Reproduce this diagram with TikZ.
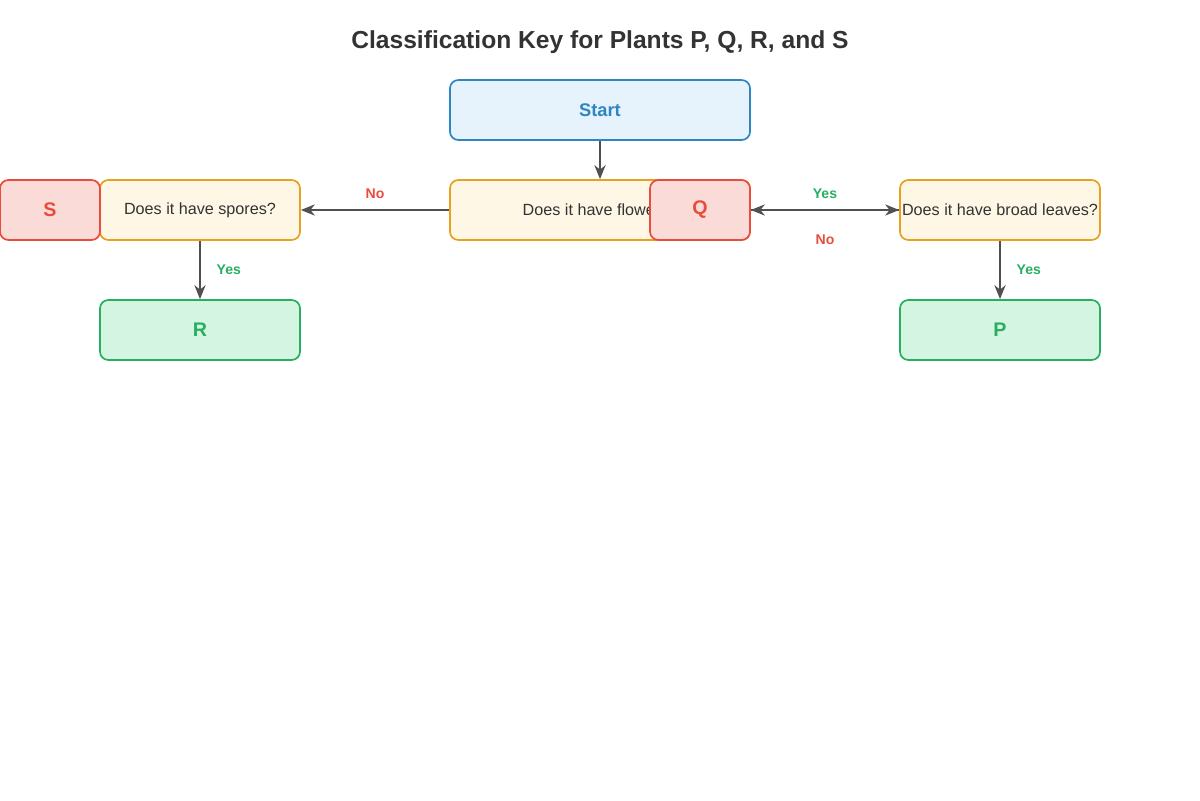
\documentclass[tikz,border=0pt]{standalone}
\usepackage{fontspec}
\setmainfont{Liberation Sans}
\usetikzlibrary{arrows.meta}
\definecolor{qfill}{HTML}{FEF7E6}
\definecolor{qdraw}{HTML}{E8A020}
\definecolor{sfill}{HTML}{E6F3FC}
\definecolor{sdraw}{HTML}{2E86C1}
\definecolor{nfill}{HTML}{FADBD8}
\definecolor{ndraw}{HTML}{E74C3C}
\definecolor{yfill}{HTML}{D5F5E3}
\definecolor{ydraw}{HTML}{27AE60}
\definecolor{line}{HTML}{505050}
\definecolor{ink}{HTML}{333333}
\tikzset{
  box/.style={rounded corners=6pt, line width=1.2pt, minimum height=1.5cm, inner sep=0pt},
  question/.style={box, draw=qdraw, fill=qfill, text=ink, font=\fontsize{11.5}{13}\selectfont, minimum width=5cm},
  startbox/.style={box, draw=sdraw, fill=sfill, text=sdraw, font=\fontsize{13}{15}\selectfont\bfseries, minimum width=7.5cm},
  nobox/.style={box, draw=ndraw, fill=nfill, text=ndraw, font=\fontsize{14}{16}\selectfont\bfseries, minimum width=2.5cm},
  yesbox/.style={box, draw=ydraw, fill=yfill, text=ydraw, font=\fontsize{14}{16}\selectfont\bfseries, minimum width=5cm},
  link/.style={draw=line, line width=1.1pt, -{Stealth[length=10pt, width=8pt]}},
  yeslabel/.style={text=ydraw, font=\fontsize{10}{12}\selectfont\bfseries},
  nolabel/.style={text=ndraw, font=\fontsize{10}{12}\selectfont\bfseries}
}
\begin{document}
\begin{tikzpicture}[x=0.025cm, y=-0.025cm]
  \useasboundingbox (0,0) rectangle (1200,800);
  \node[font=\fontsize{17.5}{20}\selectfont\bfseries, text=ink] (title) at (600,42) {Classification Key for Plants P, Q, R, and S};

  \node[startbox] (start) at (600,110) {Start};
  \node[question, minimum width=7.5cm] (flowers) at (600,210) {Does it have flowers?};
  \node[nobox] (q) at (700,210) {Q};
  \node[question] (spores) at (200,210) {Does it have spores?};
  \node[nobox] (s) at (50,210) {S};
  \node[question] (leaves) at (1000,210) {Does it have broad leaves?};
  \node[yesbox] (r) at (200,330) {R};
  \node[yesbox] (p) at (1000,330) {P};

  \draw[link] (start) -- (flowers);
  \draw[link] (flowers.west) -- (spores.east) node[midway, above=4pt, nolabel] {No};
  \draw[link] (q.east) -- (leaves.west) node[midway, above=4pt, yeslabel] {Yes};
  \draw[link] (leaves.west) -- (q.east) node[midway, below=14pt, nolabel] {No};
  \draw[link] (spores) -- (r) node[midway, right=8pt, yeslabel] {Yes};
  \draw[link] (leaves) -- (p) node[midway, right=8pt, yeslabel] {Yes};
\end{tikzpicture}
\end{document}
